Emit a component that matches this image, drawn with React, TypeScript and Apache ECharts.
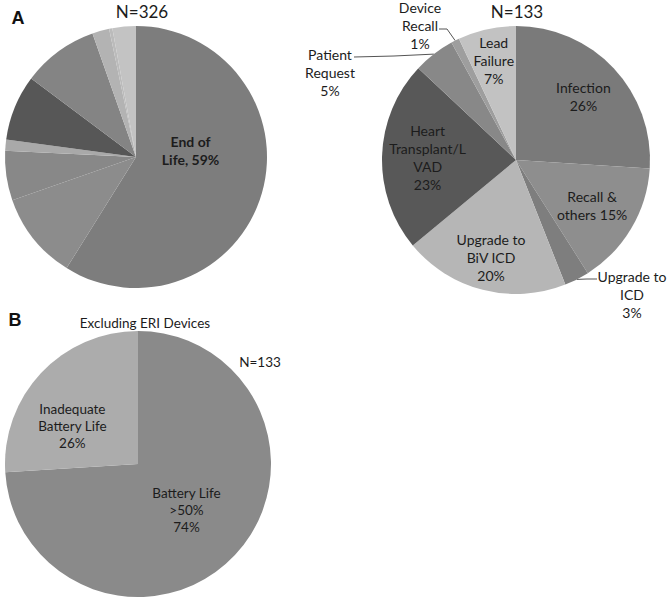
import React, { useEffect, useRef } from "react";
import * as echarts from "echarts";

// ---------- data ----------
const overallNames = [
  "End of Life",
  "Infection",
  "Recall & others",
  "Upgrade to ICD",
  "Upgrade to BiV ICD",
  "Heart Transplant/LVAD",
  "Patient Request",
  "Device Recall",
  "Lead Failure",
];
const overallValues = [59, 10.8, 6.1, 1.4, 8.1, 9.4, 2.1, 0.4, 2.9];
const overallColors = ["#7d7d7d", "#8c8c8c", "#888888", "#a9a9a9", "#575757", "#848484", "#b3b3b3", "#bbbbbb", "#c3c3c3"];

const nonEoLNames = [
  "Infection",
  "Recall & others",
  "Upgrade to ICD",
  "Upgrade to BiV ICD",
  "Heart Transplant/LVAD",
  "Patient Request",
  "Device Recall",
  "Lead Failure",
];
const nonEoLValues = [26, 15, 3, 20, 23, 5, 1, 7];
const nonEoLLabels = [
  "Infection\n26%",
  "Recall &\nothers 15%",
  "Upgrade to\nICD\n3%",
  "Upgrade to\nBiV ICD\n20%",
  "Heart\nTransplant/L\nVAD\n23%",
  "Patient\nRequest\n5%",
  "Device\nRecall\n1%",
  "Lead\nFailure\n7%",
];
const nonEoLColors = ["#7a7a7a", "#8e8e8e", "#7e7e7e", "#b6b6b6", "#585858", "#888888", "#9e9e9e", "#c2c2c2"];

const batteryNames = ["Battery Life >50%", "Inadequate Battery Life"];
const batteryValues = [74, 26];
const batteryLabels = ["Battery Life\n>50%\n74%", "Inadequate\nBattery Life\n26%"];
const batteryColors = ["#8a8a8a", "#acacac"];

// ---------- layout ----------
const W = 667;
const H = 604;
const pie1 = { cx: 136, cy: 157, r: 131 };
const pie2 = { cx: 516, cy: 160, r: 134 };
const pie3 = { cx: 138, cy: 464, r: 133 };
const FONT = "Lato, 'Open Sans', sans-serif";
const TEXT = "#1c1c1c";

function midAngles(values: number[]) {
  const total = values.reduce((a, b) => a + b, 0);
  let acc = 0;
  return values.map((v) => {
    const m = ((acc + v / 2) / total) * 360;
    acc += v;
    return m;
  });
}
function polar(c: { cx: number; cy: number; r: number }, frac: number, deg: number) {
  const a = (deg * Math.PI) / 180;
  return [c.cx + frac * c.r * Math.sin(a), c.cy - frac * c.r * Math.cos(a)];
}

// inside label placement: radial fraction
const pie2Inside: Record<number, number> = { 0: 0.69, 1: 0.66, 3: 0.75, 4: 0.66, 7: 0.76 };
const pie2Outside: Record<number, { at: number[]; elbow: number[]; attach: number[] }> = {
  2: { at: [632, 294], elbow: [587, 279], attach: [597, 279] },
  5: { at: [330, 72], elbow: [394, 56], attach: [354, 57] },
  6: { at: [420, 25], elbow: [447, 29], attach: [439, 29] },
};

export default function App() {
  const ref = useRef<HTMLDivElement>(null);
  useEffect(() => {
    if (!ref.current) return;
    const chart = echarts.init(ref.current, undefined, { renderer: "svg", width: W, height: H });
    const m2 = midAngles(nonEoLValues);
    const m3 = midAngles(batteryValues);

    const baseLabel = {
      fontFamily: FONT,
      fontSize: 14,
      lineHeight: 18,
      color: TEXT,
      align: "center",
    };
    const common = {
      type: "pie",
      startAngle: 90,
      clockwise: true,
      silent: true,
      avoidLabelOverlap: false,
      emphasis: { disabled: true },
      itemStyle: { borderWidth: 0, borderColor: "transparent" },
    };

    const option: any = {
      animation: false,
      backgroundColor: "#ffffff",
      graphic: [
        { type: "text", x: 18, y: 18, style: { text: "A", fontFamily: "'Liberation Sans', Arial, sans-serif", fontWeight: "bold", fontSize: 18, fill: "#111", textAlign: "center", textVerticalAlign: "middle" } },
        { type: "text", x: 15, y: 320, style: { text: "B", fontFamily: "'Liberation Sans', Arial, sans-serif", fontWeight: "bold", fontSize: 18, fill: "#111", textAlign: "center", textVerticalAlign: "middle" } },
        { type: "text", x: 142, y: 11, style: { text: "N=326", fontFamily: FONT, fontSize: 17, fill: TEXT, textAlign: "center", textVerticalAlign: "middle" } },
        { type: "text", x: 517, y: 11, style: { text: "N=133", fontFamily: FONT, fontSize: 17, fill: TEXT, textAlign: "center", textVerticalAlign: "middle" } },
        { type: "text", x: 145, y: 323, style: { text: "Excluding ERI Devices", fontFamily: FONT, fontSize: 13.5, fill: TEXT, textAlign: "center", textVerticalAlign: "middle" } },
        { type: "text", x: 260, y: 362, style: { text: "N=133", fontFamily: FONT, fontSize: 13.5, fill: TEXT, textAlign: "center", textVerticalAlign: "middle" } },
      ],
      series: [
        {
          ...common,
          center: [pie1.cx, pie1.cy],
          radius: pie1.r,
          labelLine: { show: false },
          data: overallNames.map((n, i) => ({
            name: n,
            value: overallValues[i],
            itemStyle: { color: overallColors[i] },
            label:
              i === 0
                ? { show: true, position: "inside", formatter: "End of\nLife, 59%", fontWeight: "bold", ...baseLabel, fontSize: 14 }
                : { show: false },
          })),
          labelLayout: (p: any) => {
            if (p.dataIndex !== 0) return {};
            const [x, y] = polar(pie1, 0.42, 82.7);
            return { x, y, align: "center", verticalAlign: "middle" };
          },
        },
        {
          ...common,
          center: [pie2.cx, pie2.cy],
          radius: pie2.r,
          data: nonEoLNames.map((n, i) => {
            const outside = pie2Outside[i] !== undefined;
            return {
              name: n,
              value: nonEoLValues[i],
              itemStyle: { color: nonEoLColors[i] },
              label: { show: true, position: outside ? "outside" : "inside", formatter: nonEoLLabels[i], ...baseLabel },
              labelLine: { show: outside, lineStyle: { color: "#555", width: 1 } },
            };
          }),
          labelLayout: (p: any) => {
            const i = p.dataIndex;
            const o = pie2Outside[i];
            if (o) {
              const edge = polar(pie2, 1, m2[i]);
              return {
                x: o.at[0],
                y: o.at[1],
                align: "center",
                verticalAlign: "middle",
                labelLinePoints: [edge, o.elbow, o.attach],
              };
            }
            const f = pie2Inside[i];
            const [x, y] = polar(pie2, f, m2[i]);
            return { x, y, align: "center", verticalAlign: "middle" };
          },
        },
        {
          ...common,
          center: [pie3.cx, pie3.cy],
          radius: pie3.r,
          labelLine: { show: false },
          data: batteryNames.map((n, i) => ({
            name: n,
            value: batteryValues[i],
            itemStyle: { color: batteryColors[i] },
            label: { show: true, position: "inside", formatter: batteryLabels[i], ...baseLabel, fontSize: 13.5, lineHeight: 17 },
          })),
          labelLayout: (p: any) => {
            const i = p.dataIndex;
            const [x, y] = i === 0 ? polar(pie3, 0.5, m3[0]) : polar(pie3, 0.57, 300);
            return { x, y, align: "center", verticalAlign: "middle" };
          },
        },
      ],
    };
    chart.setOption(option);
    return () => chart.dispose();
  }, []);
  return <div ref={ref} style={{ position: "absolute", left: 0, top: 0, width: W, height: H }} />;
}
